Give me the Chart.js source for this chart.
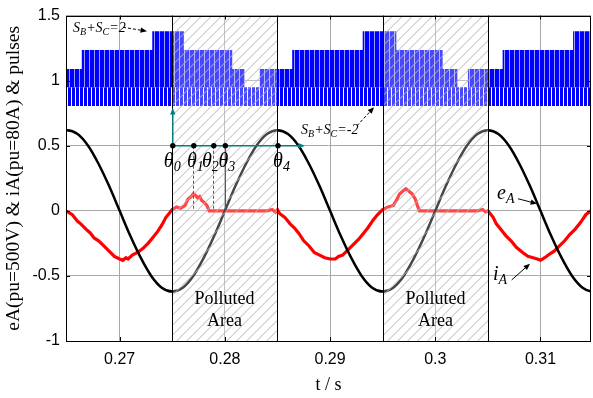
<!DOCTYPE html>
<html><head><meta charset="utf-8">
<script src="https://cdn.jsdelivr.net/npm/chart.js@4.4.0/dist/chart.umd.min.js"></script>
<style>html,body{margin:0;padding:0;background:#fff}#wrap{width:593px;height:398px}</style>
</head><body><div id="wrap"><canvas id="c" width="593" height="398"></canvas></div>
<script>
// ---------- data ----------
const xTicks = [0.27, 0.28, 0.29, 0.30, 0.31];
const yTicks = [-1, -0.5, 0, 0.5, 1, 1.5];

// eA (black), per unit
const eT = [0.264,0.265,0.266,0.267,0.268,0.269,0.270,0.271,0.272,0.273,0.274,0.275,0.276,0.277,0.278,0.279,
            0.280,0.281,0.282,0.283,0.284,0.285,0.286,0.287,0.288,0.289,0.290,0.291,0.292,0.293,0.294,0.295,
            0.296,0.297,0.298,0.299,0.300,0.301,0.302,0.303,0.304,0.305,0.306,0.307,0.308,0.309,0.310,0.311,
            0.312,0.313,0.314,0.315,0.316];
const eV = [0.59,0.62,0.59,0.50,0.36,0.19,0.00,-0.19,-0.36,-0.50,-0.59,-0.62,-0.59,-0.50,-0.36,-0.19,
            0.00,0.19,0.36,0.50,0.59,0.62,0.59,0.50,0.36,0.19,0.00,-0.19,-0.36,-0.50,-0.59,-0.62,
            -0.59,-0.50,-0.36,-0.19,0.00,0.19,0.36,0.50,0.59,0.62,0.59,0.50,0.36,0.19,0.00,-0.19,
            -0.36,-0.50,-0.59,-0.62,-0.59];

// iA (red), per unit
const iT = [0.2649,0.2655,0.2660,0.2663,0.2668,0.2672,0.2676,0.2680,0.2685,0.2690,0.2695,0.2700,0.2703,0.2706,0.2708,
            0.2712,0.2717,0.2722,0.2727,0.2731,0.2736,0.2740,0.2744,0.2747,0.2750,0.2754,0.2758,0.2762,0.2765,0.2768,
            0.2770,0.2772,0.2774,0.2776,0.2778,0.2781,0.2783,0.2785,0.2800,0.2830,0.2840,0.2845,0.2848,0.2850,
            0.2852,0.2857,0.2862,0.2866,0.2870,0.2875,0.2880,0.2885,0.2890,0.2895,0.2900,0.2905,0.2908,0.2912,
            0.2917,0.2922,0.2927,0.2932,0.2936,0.2941,0.2945,0.2950,0.2955,0.2960,0.2963,0.2966,0.2969,0.2972,
            0.2975,0.2978,0.2981,0.2983,0.2985,0.3000,0.3040,0.3045,0.3048,0.3050,
            0.3055,0.3058,0.3062,0.3067,0.3072,0.3077,0.3083,0.3088,0.3093,0.3097,0.3100,0.3104,0.3109,0.3113,
            0.3118,0.3123,0.3128,0.3133,0.3138,0.3143,0.3148];
const iV = [0.00,-0.03,-0.08,-0.10,-0.14,-0.17,-0.21,-0.23,-0.27,-0.31,-0.35,-0.37,-0.38,-0.36,-0.37,
            -0.34,-0.32,-0.29,-0.25,-0.21,-0.16,-0.11,-0.05,-0.02,0.01,0.03,0.02,0.04,0.09,0.11,
            0.13,0.12,0.10,0.11,0.08,0.06,0.04,0.00,0.00,0.00,0.00,0.01,-0.01,0.01,
            -0.02,-0.05,-0.10,-0.13,-0.17,-0.23,-0.27,-0.32,-0.34,-0.36,-0.37,-0.37,-0.35,-0.34,
            -0.30,-0.26,-0.22,-0.17,-0.13,-0.07,-0.03,0.01,0.03,0.04,0.08,0.13,0.15,0.17,
            0.15,0.13,0.09,0.04,0.00,0.00,0.00,0.01,-0.01,0.00,
            -0.05,-0.10,-0.14,-0.19,-0.23,-0.28,-0.32,-0.35,-0.36,-0.37,-0.38,-0.36,-0.33,-0.31,
            -0.27,-0.23,-0.18,-0.14,-0.09,-0.03,0.00];

// switching pulses: segment boundaries and the top level of the pulse band in each segment
const pulseT   = [0.2649,0.2664,0.2731,0.2761,0.2807,0.2819,0.2833,0.2864,0.2931,0.2963,0.3007,0.3021,0.3031,0.3064,0.3131,0.3148];
const pulseTop = [1.09,1.235,1.38,1.235,1.09,0.95,1.09,1.235,1.38,1.235,1.09,0.95,1.09,1.235,1.38];
const pulseBase = 0.805;
const pulseMid = 0.95;

// polluted areas
const pollutedStart = [0.275, 0.295];
const pollutedEnd   = [0.285, 0.305];

// theta markers
const thetaT = [0.275, 0.2770, 0.2789, 0.2800, 0.285];
const thetaSub = ['0','1','2','3','4'];
const thetaLevel = 0.5;

// ---------- chart ----------
const canvas = document.getElementById('c');
const ctx0 = canvas.getContext('2d');
function makePattern(period, base, stripe) {
  const c = document.createElement('canvas'); c.width = period; c.height = 2;
  const g = c.getContext('2d');
  g.fillStyle = base; g.fillRect(0, 0, period, 2);
  g.fillStyle = stripe; g.fillRect(period - 1, 0, 1, 2);
  return ctx0.createPattern(c, 'repeat');
}
const patUpper = makePattern(5, '#0000ff', '#9a9aff');
const patLower = makePattern(4, '#0000ff', '#ffffff');

// step outline of the upper pulse band (two points per segment)
const pulseUpperData = [];
pulseTop.forEach((lv, i) => { pulseUpperData.push({ x: pulseT[i], y: lv }, { x: pulseT[i + 1], y: lv }); });

const SERIF = '"Liberation Serif", "Times New Roman", serif';
const SANS = '"Liberation Sans", Arial, sans-serif';

function drawSub(ctx, parts, x, y, size, align) {
  let w = 0;
  const fonts = parts.map(p => p[1] ? `italic ${Math.round(size*0.68)}px ${SERIF}` : `italic ${size}px ${SERIF}`);
  parts.forEach((p, i) => { ctx.font = fonts[i]; w += ctx.measureText(p[0]).width; });
  let cx = align === 'center' ? x - w / 2 : x;
  ctx.textAlign = 'left'; ctx.textBaseline = 'alphabetic';
  parts.forEach((p, i) => {
    ctx.font = fonts[i];
    ctx.fillText(p[0], cx, p[1] ? y + size * 0.22 : y);
    cx += ctx.measureText(p[0]).width;
  });
}
function arrow(ctx, x1, y1, x2, y2, color, dashed, head, lw) {
  ctx.save();
  ctx.strokeStyle = color; ctx.fillStyle = color; ctx.lineWidth = lw || 1;
  if (dashed) ctx.setLineDash([3, 2]);
  const ang = Math.atan2(y2 - y1, x2 - x1);
  ctx.beginPath(); ctx.moveTo(x1, y1);
  ctx.lineTo(x2 - Math.cos(ang) * head * 0.8, y2 - Math.sin(ang) * head * 0.8); ctx.stroke();
  ctx.setLineDash([]);
  ctx.beginPath();
  ctx.moveTo(x2, y2);
  ctx.lineTo(x2 - head * Math.cos(ang - 0.4), y2 - head * Math.sin(ang - 0.4));
  ctx.lineTo(x2 - head * Math.cos(ang + 0.4), y2 - head * Math.sin(ang + 0.4));
  ctx.closePath(); ctx.fill();
  ctx.restore();
}

const deco = {
  id: 'deco',
  afterDatasetsDraw(chart) {
    const { ctx, chartArea: a, scales: { x, y } } = chart;
    const X = v => x.getPixelForValue(v), Y = v => y.getPixelForValue(v);
    ctx.save();
    for (let i = 0; i < pollutedStart.length; i++) {
      const x0 = Math.round(X(pollutedStart[i])), x1 = Math.round(X(pollutedEnd[i]));
      const H = a.bottom - a.top;
      ctx.save();
      ctx.beginPath(); ctx.rect(x0, a.top, x1 - x0, H); ctx.clip();
      ctx.fillStyle = 'rgba(255,255,255,0.28)'; ctx.fillRect(x0, a.top, x1 - x0, H);
      ctx.strokeStyle = '#b4b4b4'; ctx.lineWidth = 1;
      ctx.beginPath();
      for (let k = x0 - H; k < x1; k += 10) { ctx.moveTo(k, a.bottom); ctx.lineTo(k + H, a.top); }
      ctx.stroke();
      ctx.restore();
      ctx.strokeStyle = '#000'; ctx.lineWidth = 1;
      ctx.beginPath();
      ctx.moveTo(x0 + 0.5, a.top); ctx.lineTo(x0 + 0.5, a.bottom);
      ctx.moveTo(x1 + 0.5, a.top); ctx.lineTo(x1 + 0.5, a.bottom);
      ctx.stroke();
      ctx.fillStyle = '#000';
      ctx.font = `18px ${SERIF}`; ctx.textAlign = 'center'; ctx.textBaseline = 'alphabetic';
      const cx = (x0 + x1) / 2;
      ctx.fillText('Polluted', cx, Y(-0.716));
      ctx.fillText('Area', cx, Y(-0.888));
    }
    const teal = '#008080';
    const yl = Y(thetaLevel), y0 = Y(0);
    ctx.strokeStyle = teal; ctx.lineWidth = 1;
    [1, 2].forEach(i => {
      ctx.save(); ctx.setLineDash([3, 2]);
      ctx.beginPath(); ctx.moveTo(Math.round(X(thetaT[i])) + 0.5, yl); ctx.lineTo(Math.round(X(thetaT[i])) + 0.5, y0); ctx.stroke();
      ctx.restore();
    });
    ctx.beginPath(); ctx.moveTo(Math.round(X(thetaT[3])) + 0.5, yl); ctx.lineTo(Math.round(X(thetaT[3])) + 0.5, y0); ctx.stroke();
    arrow(ctx, X(thetaT[0]) + 0.5, yl, X(thetaT[0]) + 0.5, Y(0.79), teal, false, 7, 1.5);
    arrow(ctx, X(thetaT[0]), yl, X(0.2876), yl, teal, false, 7, 1.5);
    ctx.fillStyle = '#000';
    thetaT.forEach(t => { ctx.beginPath(); ctx.arc(X(t) + 0.5, yl, 2.7, 0, Math.PI * 2); ctx.fill(); });
    const dx = [0, 2, -3, 2, 4];
    thetaT.forEach((t, i) => drawSub(ctx, [['θ', false], [thetaSub[i], true]], X(t) + dx[i], Y(0.34), 20, 'center'));
    ctx.fillStyle = '#000';
    drawSub(ctx, [['S', false], ['B', true], ['+S', false], ['C', true], ['=2', false]], X(0.26557), Y(1.373), 14, 'left');
    arrow(ctx, X(0.27032), Y(1.41), X(0.2726), Y(1.38), '#000', true, 7, 1);
    drawSub(ctx, [['S', false], ['B', true], ['+S', false], ['C', true], ['=-2', false]], X(0.28724), Y(0.594), 14, 'left');
    arrow(ctx, X(0.29256), Y(0.654), X(0.29418), Y(0.796), '#000', true, 7, 1);
    drawSub(ctx, [['e', false], ['A', true]], X(0.30587), Y(0.093), 20, 'left');
    arrow(ctx, X(0.30786), Y(0.093), X(0.30967), Y(0.055), '#000', false, 7, 1);
    drawSub(ctx, [['i', false], ['A', true]], X(0.30549), Y(-0.531), 20, 'left');
    arrow(ctx, X(0.30726), Y(-0.531), X(0.30900), Y(-0.406), '#000', false, 7, 1);
    ctx.strokeStyle = '#000'; ctx.lineWidth = 1;
    ctx.strokeRect(Math.round(a.left) + 0.5, Math.round(a.top) + 0.5, Math.round(a.right - a.left) - 1, Math.round(a.bottom - a.top));
    ctx.beginPath();
    xTicks.forEach(t => {
      const px = Math.round(X(t)) + 0.5;
      ctx.moveTo(px, a.top); ctx.lineTo(px, a.top + 4);
      ctx.moveTo(px, a.bottom); ctx.lineTo(px, a.bottom - 4);
    });
    yTicks.forEach(v => {
      const py = Math.round(Y(v)) + 0.5;
      ctx.moveTo(a.left, py); ctx.lineTo(a.left + 4, py);
      ctx.moveTo(a.right, py); ctx.lineTo(a.right - 4, py);
    });
    ctx.stroke();
    ctx.restore();
  }
};

new Chart(canvas, {
  type: 'line',
  data: {
    datasets: [
      { label: 'eA', data: eT.map((t, i) => ({ x: t, y: eV[i] })), borderColor: '#000', borderWidth: 2.5,
        pointRadius: 0, cubicInterpolationMode: 'monotone', fill: false, order: 0 },
      { label: 'iA', data: iT.map((t, i) => ({ x: t, y: iV[i] })), borderColor: '#ff0000', borderWidth: 3.2,
        pointRadius: 0, tension: 0, fill: false, order: 1 },
      { label: 'pulses upper', data: pulseUpperData, tension: 0,
        borderColor: 'rgba(0,0,255,0)', borderWidth: 0, pointRadius: 0, backgroundColor: patUpper,
        fill: { value: pulseMid }, order: 2 },
      { label: 'pulses lower', data: [{ x: pulseT[0], y: pulseMid }, { x: pulseT[pulseT.length - 1], y: pulseMid }],
        tension: 0, borderColor: 'rgba(0,0,255,0)', borderWidth: 0, pointRadius: 0, backgroundColor: patLower,
        fill: { value: pulseBase }, order: 3 }
    ]
  },
  options: {
    responsive: false, animation: false, devicePixelRatio: 1,
    layout: { padding: { top: 7, right: 2, left: 0, bottom: 0 } },
    plugins: { legend: { display: false }, tooltip: { enabled: false } },
    scales: {
      x: {
        type: 'linear', min: 0.2649, max: 0.3148,
        afterBuildTicks: s => { s.ticks = xTicks.map(v => ({ value: v })); },
        afterFit: s => { s.height = 57; },
        grid: { color: '#a8a8a8', lineWidth: 1, drawTicks: false },
        border: { display: false },
        ticks: { color: '#000', font: { family: SANS, size: 16 }, padding: 9, maxRotation: 0,
                 callback: v => String(Math.round(v * 100) / 100) },
        title: { display: true, text: 't / s', color: '#000', font: { family: SERIF, size: 18 }, padding: { top: 0, bottom: 2 } }
      },
      y: {
        type: 'linear', min: -1, max: 1.5,
        afterBuildTicks: s => { s.ticks = yTicks.map(v => ({ value: v })); },
        afterFit: s => { s.width = 66; },
        grid: { color: '#a8a8a8', lineWidth: 1, drawTicks: false },
        border: { display: false },
        ticks: { color: '#000', font: { family: SANS, size: 16 }, padding: 6,
                 callback: v => String(Math.round(v * 10) / 10) },
        title: { display: true, text: 'eA(pu=500V) & iA(pu=80A) & pulses', color: '#000',
                 font: { family: SERIF, size: 19.5 }, padding: { top: 2, bottom: 0 } }
      }
    }
  },
  plugins: [deco]
});
</script></body></html>
